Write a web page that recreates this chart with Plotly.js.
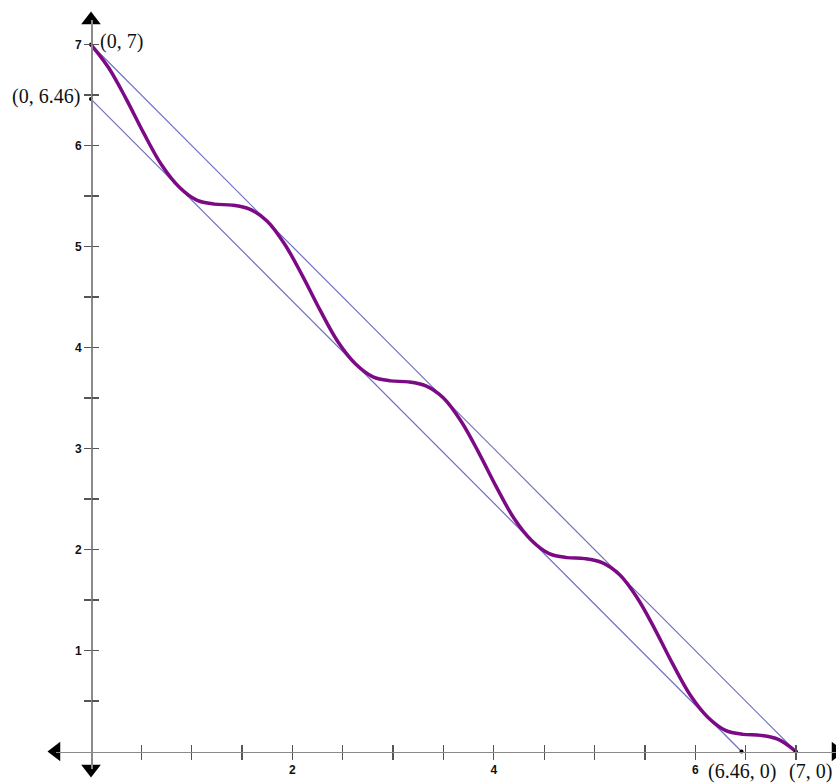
<!DOCTYPE html>
<html>
<head>
<meta charset="utf-8">
<script src="https://cdn.plot.ly/plotly-3.0.1.min.js"></script>
<style>html,body{margin:0;padding:0;background:#fff;}#chart{width:836px;height:784px;}</style>
</head>
<body>
<div id="chart"></div>
<script>
// ---- data ----
const curveX = [0, 0.175, 0.35, 0.525, 0.7, 0.875, 1.05, 1.225, 1.4, 1.575, 1.75, 1.925, 2.1, 2.275, 2.45, 2.625, 2.8, 2.975, 3.15, 3.325, 3.5, 3.675, 3.85, 4.025, 4.2, 4.375, 4.55, 4.725, 4.9, 5.075, 5.25, 5.425, 5.6, 5.775, 5.95, 6.125, 6.3, 6.475, 6.65, 6.825, 7];
const curveY = [7.00, 6.77, 6.46, 6.12, 5.81, 5.59, 5.46, 5.42, 5.41, 5.37, 5.25, 5.02, 4.71, 4.37, 4.06, 3.84, 3.71, 3.67, 3.66, 3.62, 3.50, 3.27, 2.96, 2.62, 2.31, 2.09, 1.96, 1.92, 1.91, 1.87, 1.75, 1.52, 1.21, 0.87, 0.56, 0.34, 0.21, 0.17, 0.16, 0.12, 0.00];
const upperX = [0, 7];
const upperY = [7, 0];
const lowerX = [0, 6.46];
const lowerY = [6.46, 0];
const pointX = [0, 0, 6.46, 7];
const pointY = [7, 6.46, 0, 0];
const pointLabels = ['(0, 7)', '(0, 6.46)', '(6.46, 0)', '(7, 0)'];
const tickVals = [0.5, 1, 1.5, 2, 2.5, 3, 3.5, 4, 4.5, 5, 5.5, 6, 6.5, 7];
const xTickText = ['', '', '', '2', '', '', '', '4', '', '', '', '6', '', ''];
const yTickText = ['', '1', '', '2', '', '3', '', '4', '', '5', '', '6', '', '7'];
const xRange = [-0.3476, 7.398];
const yRange = [-0.173, 7.243];

// ---- chart ----
const xPos = (0 - yRange[0]) / (yRange[1] - yRange[0]);
const yPos = (0 - xRange[0]) / (xRange[1] - xRange[0]);
const axisCol = '#8a8a8a';
const tickFont = {family: 'Liberation Sans, Arial, sans-serif', size: 12, color: '#111', weight: 'bold'};

const traces = [
  {x: upperX, y: upperY, mode: 'lines', line: {color: '#6f6fc0', width: 1.2}, hoverinfo: 'skip'},
  {x: lowerX, y: lowerY, mode: 'lines', line: {color: '#6f6fc0', width: 1.2}, hoverinfo: 'skip'},
  {x: curveX, y: curveY, mode: 'lines', line: {color: '#7d0a85', width: 3.5, shape: 'spline', smoothing: 1}, hoverinfo: 'skip'},
  {x: pointX, y: pointY, mode: 'markers', marker: {color: '#000', size: 4}, cliponaxis: false, hoverinfo: 'skip'},
  {x: [xRange[0]], y: [0], mode: 'markers', marker: {symbol: 'triangle-left', size: 17, color: '#000'}, cliponaxis: false},
  {x: [xRange[1]], y: [0], mode: 'markers', marker: {symbol: 'triangle-right', size: 17, color: '#000'}, cliponaxis: false},
  {x: [0], y: [yRange[1]], mode: 'markers', marker: {symbol: 'triangle-up', size: 17, color: '#000'}, cliponaxis: false},
  {x: [0], y: [yRange[0]], mode: 'markers', marker: {symbol: 'triangle-down', size: 17, color: '#000'}, cliponaxis: false}
];

const annFont = {family: 'Liberation Serif, Times New Roman, serif', size: 20, color: '#111'};
const annotations = [
  {x: pointX[0], y: pointY[0], text: pointLabels[0], xanchor: 'left', yanchor: 'middle', xshift: 7, yshift: 3},
  {x: pointX[1], y: pointY[1], text: pointLabels[1], xanchor: 'right', yanchor: 'middle', xshift: -9, yshift: 3},
  {x: pointX[2], y: pointY[2], text: pointLabels[2], xanchor: 'center', yanchor: 'top', xshift: 0, yshift: -6},
  {x: pointX[3], y: pointY[3], text: pointLabels[3], xanchor: 'center', yanchor: 'top', xshift: 15, yshift: -6}
].map(a => Object.assign({showarrow: false, font: annFont, xref: 'x', yref: 'y'}, a));

const layout = {
  width: 836, height: 784,
  margin: {l: 56, r: 0, t: 20, b: 15, autoexpand: false},
  paper_bgcolor: '#fff', plot_bgcolor: '#fff',
  showlegend: false,
  xaxis: {range: xRange, anchor: 'free', position: xPos, showgrid: false, zeroline: false,
          showline: true, linecolor: axisCol, linewidth: 1.5,
          ticks: 'outside', ticklen: 7, tickwidth: 1.3, tickcolor: '#555',
          tickmode: 'array', tickvals: tickVals, ticktext: xTickText, tickfont: tickFont},
  xaxis2: {range: xRange, overlaying: 'x', anchor: 'free', position: xPos, showgrid: false, zeroline: false,
           showline: false, ticks: 'inside', ticklen: 7, tickwidth: 1.3, tickcolor: '#555',
           tickmode: 'array', tickvals: tickVals, showticklabels: false},
  yaxis: {range: yRange, anchor: 'free', position: yPos, showgrid: false, zeroline: false,
          showline: true, linecolor: axisCol, linewidth: 1.5,
          ticks: 'outside', ticklen: 7, tickwidth: 1.3, tickcolor: '#555',
          tickmode: 'array', tickvals: tickVals, ticktext: yTickText, tickfont: tickFont},
  yaxis2: {range: yRange, overlaying: 'y', anchor: 'free', position: yPos, showgrid: false, zeroline: false,
           showline: false, ticks: 'inside', ticklen: 7, tickwidth: 1.3, tickcolor: '#555',
           tickmode: 'array', tickvals: tickVals, showticklabels: false},
  annotations: annotations
};

// dummy trace so the overlay axes render
traces.push({x: [null], y: [null], xaxis: 'x2', yaxis: 'y2', mode: 'markers', hoverinfo: 'skip'});

Plotly.newPlot('chart', traces, layout, {staticPlot: true, displayModeBar: false});
</script>
</body>
</html>
